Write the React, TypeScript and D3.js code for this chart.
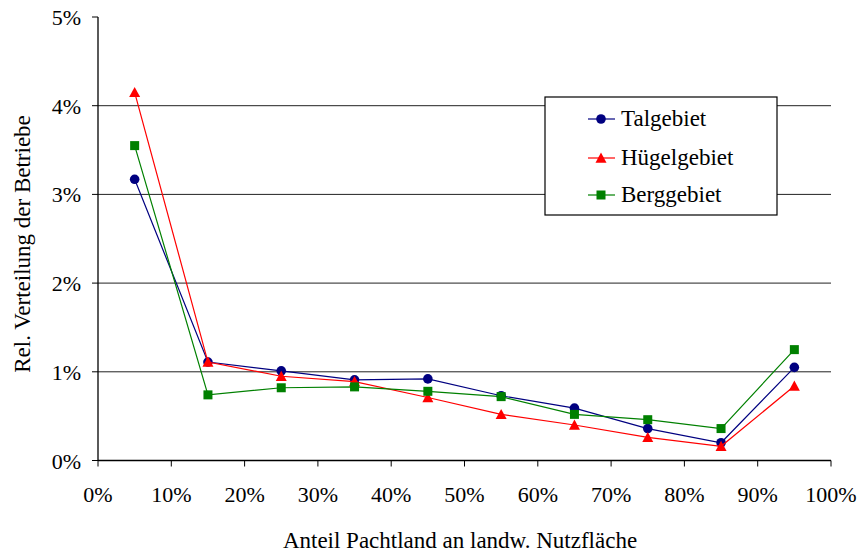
import React from "react";
import * as d3 from "d3";

// Pachtland share classes (midpoints, %)
const shares = [5, 15, 25, 35, 45, 55, 65, 75, 85, 95];
const talgebiet = [3.17, 1.11, 1.01, 0.91, 0.92, 0.73, 0.59, 0.36, 0.2, 1.05];
const huegelgebiet = [4.15, 1.11, 0.95, 0.89, 0.71, 0.52, 0.4, 0.26, 0.16, 0.84];
const berggebiet = [3.55, 0.74, 0.82, 0.83, 0.78, 0.72, 0.52, 0.46, 0.36, 1.25];
const xTicks = [0, 10, 20, 30, 40, 50, 60, 70, 80, 90, 100];
const yTicks = [0, 1, 2, 3, 4, 5];
const seriesNames = ["Talgebiet", "Hügelgebiet", "Berggebiet"];

const W = 862;
const H = 554;
const font = "Liberation Serif";

export default function App() {
  const x = d3.scaleLinear().domain([0, 100]).range([98, 831]);
  const y = d3.scaleLinear().domain([0, 5]).range([460.5, 17]);

  const series = [
    { name: seriesNames[0], values: talgebiet, color: "#000080", shape: "circle" },
    { name: seriesNames[1], values: huegelgebiet, color: "#ff0000", shape: "triangle" },
    { name: seriesNames[2], values: berggebiet, color: "#008000", shape: "square" },
  ];

  const line = d3
    .line<number>()
    .x((_, i) => x(shares[i]))
    .y((d) => y(d));

  const marker = (shape: string, cx: number, cy: number, color: string, key: string) => {
    if (shape === "circle") return <circle key={key} cx={cx} cy={cy} r={4.8} fill={color} />;
    if (shape === "square")
      return <rect key={key} x={cx - 4.5} y={cy - 4.5} width={9} height={9} fill={color} />;
    const s = 5.5;
    return (
      <path
        key={key}
        d={`M${cx},${cy - s}L${cx + s},${cy + s * 0.85}L${cx - s},${cy + s * 0.85}Z`}
        fill={color}
      />
    );
  };

  const legend = { x: 545, y: 97, w: 232, h: 118 };
  const legendRows = [119, 158, 195];
  const textStyle = { fontFamily: font };

  return (
    <svg width={W} height={H} style={{ position: "absolute", left: 0, top: 0 }}>
      <rect width={W} height={H} fill="#fff" />
      {/* horizontal grid */}
      {yTicks
        .filter((t) => t > 0 && t < 5)
        .map((t) => (
          <line key={t} x1={x(0)} x2={x(100)} y1={y(t)} y2={y(t)} stroke="#222" strokeWidth={1} />
        ))}
      {/* axes */}
      <line x1={x(0)} x2={x(0)} y1={y(5)} y2={y(0)} stroke="#000" strokeWidth={1.3} />
      <line x1={x(0)} x2={x(100)} y1={y(0)} y2={y(0)} stroke="#000" strokeWidth={1.3} />
      {yTicks.map((t) => (
        <g key={t}>
          <line x1={x(0) - 6} x2={x(0)} y1={y(t)} y2={y(t)} stroke="#000" />
          <text x={81} y={y(t) + 8} textAnchor="end" fontSize={22} style={textStyle}>
            {t}%
          </text>
        </g>
      ))}
      {xTicks.map((t) => (
        <g key={t}>
          <line x1={x(t)} x2={x(t)} y1={y(0)} y2={y(0) + 6} stroke="#000" />
          <text x={x(t)} y={502} textAnchor="middle" fontSize={22} style={textStyle}>
            {t}%
          </text>
        </g>
      ))}
      <text x={460} y={548} textAnchor="middle" fontSize={23} style={textStyle}>
        Anteil Pachtland an landw. Nutzfläche
      </text>
      <text
        transform={`translate(30,244) rotate(-90)`}
        textAnchor="middle"
        fontSize={23}
        style={textStyle}
      >
        Rel. Verteilung der Betriebe
      </text>
      {/* series */}
      {series.map((s) => (
        <g key={s.name}>
          <path d={line(s.values) || ""} fill="none" stroke={s.color} strokeWidth={1.2} />
          {s.values.map((v, i) => marker(s.shape, x(shares[i]), y(v), s.color, `${s.name}-${i}`))}
        </g>
      ))}
      {/* legend */}
      <rect
        x={legend.x}
        y={legend.y}
        width={legend.w}
        height={legend.h}
        fill="#fff"
        stroke="#000"
        strokeWidth={1.2}
      />
      {series.map((s, i) => (
        <g key={s.name}>
          <line x1={588} x2={615} y1={legendRows[i]} y2={legendRows[i]} stroke={s.color} strokeWidth={1.2} />
          {marker(s.shape, 601, legendRows[i], s.color, `lg-${i}`)}
          <text x={621} y={legendRows[i] + 7} fontSize={23} style={textStyle}>
            {s.name}
          </text>
        </g>
      ))}
    </svg>
  );
}
